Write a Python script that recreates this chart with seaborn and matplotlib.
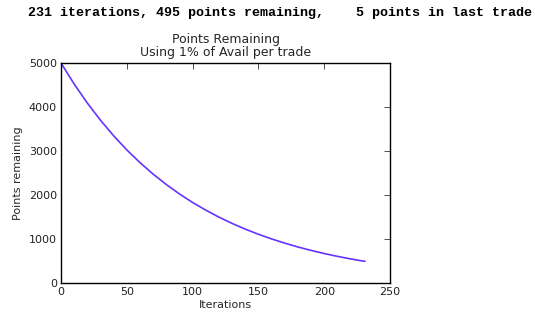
import matplotlib
matplotlib.use("Agg")
import matplotlib.pyplot as plt
import seaborn as sns
import pandas as pd

iterations = [0, 10, 20, 30, 40, 50, 60, 70, 80, 90, 100, 110, 120, 130, 140,
              150, 160, 170, 180, 190, 200, 210, 220, 230, 231]
points = [5000, 4522, 4090, 3699, 3345, 3025, 2736, 2475, 2238, 2024, 1830, 1656,
          1497, 1354, 1225, 1108, 1002, 906, 819, 741, 670, 606, 548, 496, 495]
x_ticks = [0, 50, 100, 150, 200, 250]
y_ticks = [0, 1000, 2000, 3000, 4000, 5000]

sns.set_style("white")
plt.rcParams['font.family'] = ['DejaVu Sans']

df = pd.DataFrame({"Iterations": iterations, "Points remaining": points})

fig = plt.figure(figsize=(5.35, 3.16), dpi=100)
ax = fig.add_axes([61/535, 1 - 283/316, 329/535, 220/316])
sns.lineplot(data=df, x="Iterations", y="Points remaining", ax=ax,
             color="#6633ff", linewidth=1.2)
ax.set_xlim(0, 250)
ax.set_ylim(0, 5000)
ax.set_xticks(x_ticks)
ax.set_yticks(y_ticks)
ax.tick_params(direction="in", length=4, width=0.6, top=True, right=True,
               labelsize=8, pad=3, color="#333333", labelcolor="#222222")
for s in ax.spines.values():
    s.set_linewidth(1.0)
    s.set_color("black")
ax.set_xlabel("Iterations", fontsize=8, labelpad=2)
ax.set_ylabel("Points remaining", fontsize=8, labelpad=4)
ax.set_title("Points Remaining\nUsing 1% of Avail per trade", fontsize=9,
             linespacing=1.05, pad=5)

fig.text(28/535, 1 - 13/316, "231 iterations, 495 points remaining,    5 points in last trade",
         family="Liberation Mono", fontweight="bold", fontsize=9.6, va="center", ha="left",
         color="black")

fig.savefig("out.png", dpi=100, facecolor="white")
